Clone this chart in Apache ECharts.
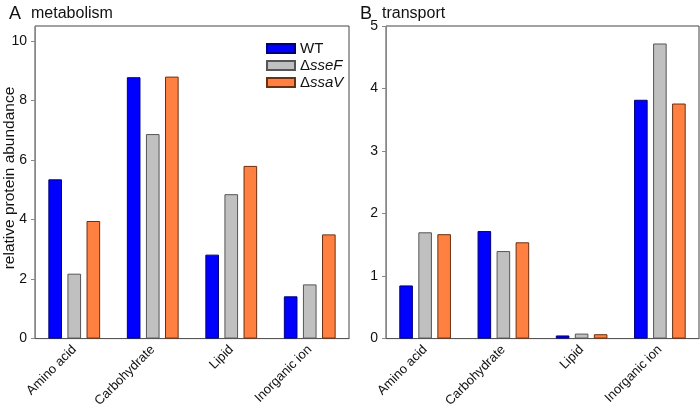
<!DOCTYPE html>
<html>
<head>
<meta charset="utf-8">
<script src="https://cdn.jsdelivr.net/npm/echarts@6/dist/echarts.min.js"></script>
<style>
  html, body { margin: 0; padding: 0; background: #fff; }
  #chart { width: 700px; height: 410px; }
</style>
</head>
<body>
<div id="chart"></div>
<script>
// categories shared by both panels
var categories = ['Amino acid', 'Carbohydrate', 'Lipid', 'Inorganic ion'];

// panel A: metabolism
var metabWT   = [5.35, 8.78, 2.82, 1.42];
var metabSseF = [2.18, 6.87, 4.85, 1.82];
var metabSsaV = [3.95, 8.80, 5.80, 3.50];

// panel B: transport
var transWT   = [0.85, 1.72, 0.05, 3.82];
var transSseF = [1.70, 1.40, 0.08, 4.72];
var transSsaV = [1.67, 1.54, 0.07, 3.76];

var font = 'Liberation Sans, Arial, sans-serif';
var colors = {
  WT:   { fill: '#0000ff', border: '#00007a' },
  sseF: { fill: '#c0c0c0', border: '#555555' },
  ssaV: { fill: '#ff8040', border: '#6b3010' }
};

function bar(name, data, idx, c) {
  return {
    name: name,
    type: 'bar',
    xAxisIndex: idx,
    yAxisIndex: idx,
    data: data,
    barGap: '40%',
    barCategoryGap: '34%',
    itemStyle: { color: c.fill, borderColor: c.border, borderWidth: 1 }
  };
}

function xAx(idx) {
  return {
    type: 'category',
    gridIndex: idx,
    data: categories,
    axisLine: { lineStyle: { color: '#555', width: 1 } },
    axisTick: { alignWithLabel: true, length: 5, lineStyle: { color: '#555' } },
    axisLabel: { rotate: 45, color: '#111', fontSize: 13, fontFamily: font, margin: 9 }
  };
}

function yAx(idx, max, interval) {
  return {
    type: 'value',
    gridIndex: idx,
    min: 0,
    max: max,
    interval: interval,
    splitLine: { show: false },
    axisLine: { show: true, lineStyle: { color: '#888', width: 1 } },
    axisTick: { show: true, length: 4, lineStyle: { color: '#888' } },
    axisLabel: { color: '#111', fontSize: 14, fontFamily: font, margin: 8, showMaxLabel: idx === 1 }
  };
}

var titleRich = {
  a: { fontSize: 18, fontFamily: font, fontWeight: 'normal', color: '#111' },
  b: { fontSize: 16, fontFamily: font, fontWeight: 'normal', color: '#111' }
};

var chart = echarts.init(document.getElementById('chart'));
chart.setOption({
  animation: false,
  backgroundColor: '#fff',
  title: [
    { text: '{a|A}  {b|metabolism}', left: 4, top: 0,
      textStyle: { fontWeight: 'normal', rich: titleRich } },
    { text: '{a|B}  {b|transport}', left: 355, top: 0,
      textStyle: { fontWeight: 'normal', rich: titleRich } }
  ],
  graphic: [{
    type: 'text',
    rotation: Math.PI / 2,
    x: 10, y: 178,
    style: { text: 'relative protein abundance', fontSize: 15.5, fontFamily: font, fill: '#111',
             textAlign: 'center', textVerticalAlign: 'middle' }
  }],
  legend: {
    orient: 'vertical',
    left: 261,
    top: 36,
    itemWidth: 28,
    itemHeight: 9,
    itemGap: 2,
    icon: 'rect',
    data: ['WT', 'sseF', 'ssaV'],
    formatter: function (n) {
      return n === 'WT' ? '{n|WT}' : '{n|\u0394}{i|' + n + '}';
    },
    textStyle: {
      rich: {
        n: { fontSize: 15, fontFamily: font, color: '#111' },
        i: { fontSize: 15, fontFamily: font, fontStyle: 'italic', color: '#111' }
      }
    }
  },
  grid: [
    { left: 35, right: 351, top: 26, bottom: 70, show: true, borderColor: '#444', borderWidth: 1 },
    { left: 386, right: 1, top: 26, bottom: 70, show: true, borderColor: '#444', borderWidth: 1 }
  ],
  xAxis: [xAx(0), xAx(1)],
  yAxis: [yAx(0, 10.5, 2), yAx(1, 5, 1)],
  series: [
    bar('WT', metabWT, 0, colors.WT),
    bar('sseF', metabSseF, 0, colors.sseF),
    bar('ssaV', metabSsaV, 0, colors.ssaV),
    bar('WT', transWT, 1, colors.WT),
    bar('sseF', transSseF, 1, colors.sseF),
    bar('ssaV', transSsaV, 1, colors.ssaV)
  ]
});
</script>
</body>
</html>
